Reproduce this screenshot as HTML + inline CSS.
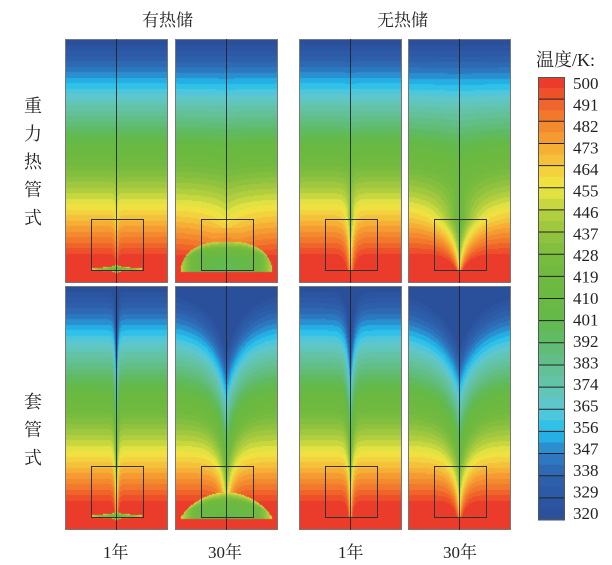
<!DOCTYPE html>
<html><head><meta charset="utf-8">
<style>
body{margin:0;background:#fff;width:612px;height:565px;overflow:hidden;position:relative;font-family:"Liberation Serif","Noto Serif CJK SC",serif;}
canvas{position:absolute;}
.lbl{position:absolute;font-size:17px;color:#222;white-space:nowrap;}
.vl{position:absolute;font-size:18px;color:#222;width:20px;line-height:28px;text-align:center;}
</style></head><body>
<div class="lbl" style="left:142px;top:6px;">有热储</div>
<div class="lbl" style="left:377px;top:6px;">无热储</div>
<div class="vl" style="left:23px;top:92px;">重力热管式</div>
<div class="vl" style="left:23px;top:388px;">套管式</div>
<div class="lbl" style="left:103px;top:538px;">1年</div>
<div class="lbl" style="left:208px;top:538px;">30年</div>
<div class="lbl" style="left:338px;top:538px;">1年</div>
<div class="lbl" style="left:443px;top:538px;">30年</div>
<div class="lbl" style="left:536px;top:46px;font-size:18px;">温度/K:</div>
<div id="panels"></div>
<svg id="ov" width="612" height="565" style="position:absolute;left:0;top:0"></svg>
<script>
const tickValues=[500,491,482,473,464,455,446,437,428,419,410,401,392,383,374,365,356,347,338,329,320];
const cmapValues=[320,329,338,347,356,365,374,383,392,401,410,419,428,437,446,455,464,473,482,491,500];
const cmapColors=["#2a4e9a","#2c57a3","#2e62ad","#2c7fc6","#22bfee","#5cc8d6","#63c4ad","#63bf90","#60bb6c","#62b94a","#6bb941","#6fb93f","#7bbd3f","#96c53f","#b9d13e","#eee843","#f4cb3c","#f6a433","#f3812c","#ef5b2a","#e9302b"];
const panelKinds=["pipe-store-1","pipe-store-30","pipe-none-1","pipe-none-30","coax-store-1","coax-store-30","coax-none-1","coax-none-30"];
const PX=[65,175,299,408],PY=[39,286],W=103,H=244;
const BX0=26,BX1=78,BY0=180,BY1=231,CX=51.5;
function hex(c){return[parseInt(c.slice(1,3),16),parseInt(c.slice(3,5),16),parseInt(c.slice(5,7),16)];}
const cm=cmapColors.map(hex);
function color(T){T=Math.max(320,Math.min(500,T));let k=Math.min(39,Math.floor((T-320)/4.5));let v=320+(k+0.5)*4.5;let f=(v-320)/9;let i=Math.min(19,Math.floor(f));let r=f-i;return cm[i].map((a,j)=>a+(cm[i+1][j]-a)*r);}
function base(t){return 320+200*t;}
function temp(kind,px,py){
  const t=py/H,dx=Math.abs(px+0.5-CX),tbb=BY1/H,tbt=BY0/H;
  let A=0,L=1;
  if(py<=BY1){
    if(kind=="pipe-store-1"){A=0.08*(t>tbt?1:Math.exp(-(tbt-t)/0.1));L=1.5;}
    else if(kind=="pipe-store-30"){A=0.06*(t>tbt?1:Math.exp(-(tbt-t)/0.2));L=20;}
    else if(kind=="pipe-none-1"){A=0.22*(t>tbt?1:Math.exp(-(tbt-t)/0.12));L=3;}
    else if(kind=="pipe-none-30"){A=0.3*(t>tbt?1:Math.exp(-(tbt-t)/0.15));L=2+60*(tbb-t);}
    else if(kind=="coax-store-1"){A=0.3;L=1.2;}
    else if(kind=="coax-store-30"){A=0.26;L=2+20*(tbb-t);}
    else if(kind=="coax-none-1"){A=0.25;L=1.5+2.5*(tbb-t);}
    else if(kind=="coax-none-30"){A=0.24;L=2+25*(tbb-t);}
  }
  let T=base(t-A*Math.exp(-dx/L));
  if(kind=="pipe-store-30"||kind=="coax-store-30"){
    const rx=46;
    if(dx<rx&&py<=BY1+1){
      let u=dx/rx;
      let dym=kind=="pipe-store-30"?30*Math.pow(1-Math.pow(u,2.5),0.5):26*Math.pow(1-u*u,0.8);
      let dy=BY1+1-py;
      if(dy<dym){let q=Math.max(dy/dym,u);q=q*q*q;let Ti=(kind=="pipe-store-30"?400:405)+50*q;T=Math.min(T,Ti);}
      else if(dy<dym+14 && kind=="pipe-store-30"){T=Math.max(T,480-(dy-dym)*0.8);}
    }
  }
  if(kind=="pipe-store-1"||kind=="coax-store-1"){
    const ry=1.6+3*Math.exp(-dx/4);
    let e=(dx/27)**2+((py-229.5)/ry)**2;
    if(e<1)T=Math.min(T,415+40*e);
  }
  return T;
}
const host=document.getElementById('panels');
panelKinds.forEach((kind,i)=>{
  const c=document.createElement('canvas');
  c.width=W;c.height=H;
  c.style.left=PX[i%4]+'px';c.style.top=PY[Math.floor(i/4)]+'px';
  
  
  const ctx=c.getContext('2d'),img=ctx.createImageData(W,H);
  for(let y=0;y<H;y++)for(let x=0;x<W;x++){const col=color(temp(kind,x,y));const o=(y*W+x)*4;img.data[o]=col[0];img.data[o+1]=col[1];img.data[o+2]=col[2];img.data[o+3]=255;}
  ctx.putImageData(img,0,0);
  host.appendChild(c);
});
const ns="http://www.w3.org/2000/svg",ov=document.getElementById('ov');
function mk(tag,attrs,name){const e=document.createElementNS(ns,tag);for(const k in attrs)e.setAttribute(k,attrs[k]);


ov.appendChild(e);return e;}
panelKinds.forEach((kind,i)=>{
  const x0=PX[i%4],y0=PY[Math.floor(i/4)];
  mk('rect',{x:x0+0.5,y:y0+0.5,width:W-1,height:H-1,fill:'none',stroke:'#777','stroke-width':1},'panel-border');
  mk('line',{x1:x0+CX,y1:y0,x2:x0+CX,y2:y0+H,stroke:'#222','stroke-width':1,opacity:0.85},'well-line');
  mk('rect',{x:x0+BX0+0.5,y:y0+BY0+0.5,width:BX1-BX0,height:BY1-BY0,fill:'none',stroke:'#333','stroke-width':1},'storage-box');
});
const cbTop=77,cbBot=520,cbX=538,cbW=27,nb=20,bh=(cbBot-cbTop)/nb;
for(let i=0;i<nb;i++){
  const v=500-i*9;
  const c1=color(v-2.5),c2=color(v-6.5);
  mk('rect',{x:cbX,y:cbTop+i*bh,width:cbW,height:bh/2+0.5,fill:`rgb(${c1.map(Math.round)})`},'colorbar-band');
  mk('rect',{x:cbX,y:cbTop+i*bh+bh/2,width:cbW,height:bh/2+0.5,fill:`rgb(${c2.map(Math.round)})`},'colorbar-band');
  if(i>0)mk('line',{x1:cbX,x2:cbX+cbW,y1:cbTop+i*bh,y2:cbTop+i*bh,stroke:'#222','stroke-width':1},'colorbar-divider');
}
mk('rect',{x:cbX+0.5,y:cbTop+0.5,width:cbW-1,height:cbBot-cbTop-1,fill:'none',stroke:'#555','stroke-width':1},'colorbar-border');
tickValues.forEach((v,i)=>{
  const tx=mk('text',{x:573,y:83+i*21.5+6,'font-size':17,fill:'#222','font-family':'Liberation Serif, serif'},'colorbar-tick-label');
  tx.textContent=v;
});
</script>
</body></html>
